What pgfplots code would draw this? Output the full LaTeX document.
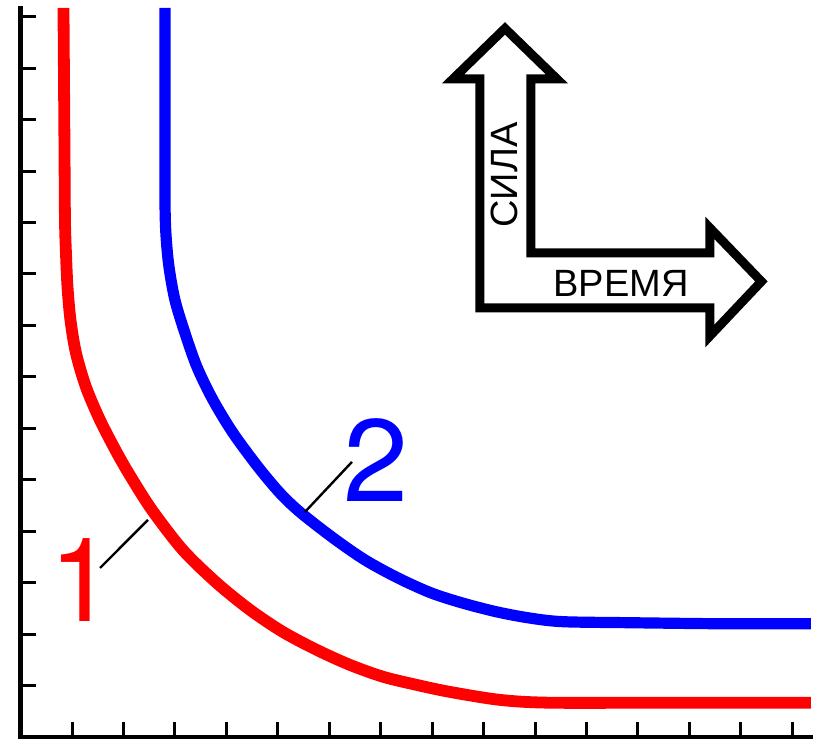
\documentclass[border=0pt]{standalone}
\usepackage{fontspec}
\setmainfont{Liberation Sans}
\newfontfamily\digitfont{TeX Gyre Heros}
\usepackage{pgfplots}
\pgfplotsset{compat=1.18}
\begin{document}
\begin{tikzpicture}
\begin{axis}[
  x=25.725pt, y=25.725pt,
  xmin=0, xmax=15.36, ymin=0, ymax=14.17,
  axis x line=bottom, axis y line=left,
  axis line style={-, line width=2.25pt, black, line cap=rect},
  xtick={1,...,15}, ytick={1,...,14},
  xticklabels={}, yticklabels={},
  tick align=inside, major tick length=7.5pt,
  tick style={line width=1.5pt, black},
  clip=false,
]
\addplot[red, line width=5.9pt, smooth] coordinates {
(0.834,14.17) (0.853,11.5) (0.863,10.05) (0.882,9.41) (0.912,8.75) (0.970,8.10)
(1.077,7.46) (1.271,6.80) (1.543,6.16) (1.874,5.52) (2.146,5.05)
(2.554,4.41) (3.157,3.63) (3.817,2.99) (4.459,2.47) (5.100,2.04)
(5.761,1.69) (6.402,1.40) (7.044,1.17) (7.705,1.01) (8.346,0.875)
(9.318,0.72) (10.29,0.665) (12.5,0.665) (15.36,0.665)};
\addplot[blue, line width=5.6pt, smooth] coordinates {
(2.807,14.17) (2.807,12.3) (2.807,10.44) (2.826,9.76) (2.884,9.14) (3.001,8.49)
(3.195,7.85) (3.429,7.19) (3.740,6.55) (4.128,5.91) (4.614,5.25)
(5.042,4.74) (5.431,4.37) (6.072,3.87) (6.694,3.44) (7.335,3.09)
(7.977,2.80) (8.599,2.60) (9.260,2.43) (9.901,2.31) (10.54,2.24)
(11.84,2.22) (13.6,2.20) (15.36,2.20)};
% leader lines
\draw[black, line width=1.2pt] (axis cs:1.545,3.285) -- (axis cs:2.476,4.218);
\draw[black, line width=1.2pt] (axis cs:5.528,4.373) -- (axis cs:6.441,5.345);
\node[red, anchor=base west, inner sep=0pt, font=\digitfont\fontsize{58.5}{60}\selectfont] at (axis cs:0.552,2.235) {1};
\node[blue, anchor=base west, inner sep=0pt, font=\digitfont\fontsize{58.5}{60}\selectfont] at (axis cs:6.276,4.568) {2};
% arrow symbol
\draw[black, line width=4.5pt, line join=miter, miter limit=20]
 (axis cs:9.415,13.771) -- (axis cs:8.404,12.789) -- (axis cs:8.929,12.789)
 -- (axis cs:8.929,8.338) -- (axis cs:13.399,8.338) -- (axis cs:13.399,7.794)
 -- (axis cs:14.400,8.853) -- (axis cs:13.399,9.893) -- (axis cs:13.399,9.407)
 -- (axis cs:9.920,9.407) -- (axis cs:9.920,12.789) -- (axis cs:10.426,12.789)
 -- cycle;
\node[rotate=90, inner sep=0pt, font=\fontsize{19}{20}\selectfont] at (axis cs:9.397,10.923) {СИЛА};
\node[inner sep=0pt, font=\fontsize{19}{20}\selectfont] at (axis cs:11.670,8.824) {ВРЕМЯ};
\coordinate (bl) at (axis cs:-0.4,-0.0777);
\coordinate (tr) at (axis cs:15.461,14.324);
\end{axis}
\pgfresetboundingbox
\path[use as bounding box] (bl) rectangle (tr);
\end{tikzpicture}
\end{document}
